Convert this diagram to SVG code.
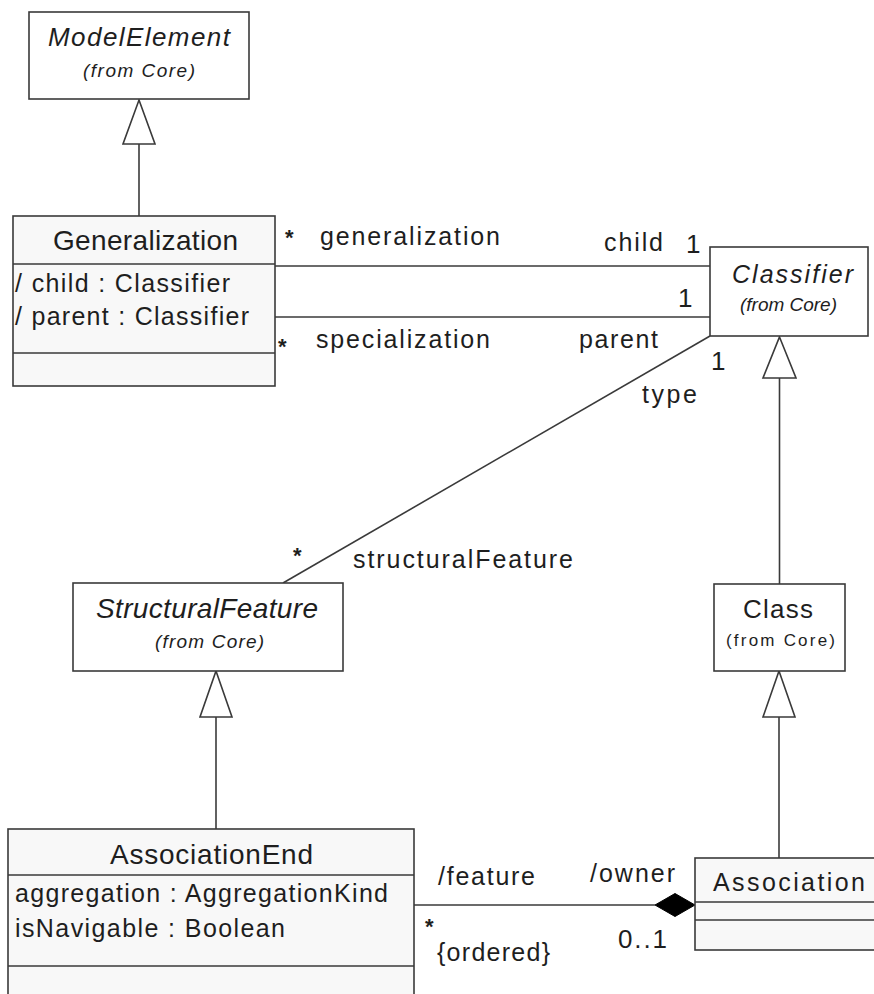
<svg xmlns="http://www.w3.org/2000/svg" width="874" height="994" viewBox="0 0 874 994">
  <style>
    .box { fill: #ffffff; stroke: #3a3a3a; stroke-width: 1.6; }
    .cls { fill: #f8f8f8; stroke: #3a3a3a; stroke-width: 1.6; }
    .div { stroke: #3a3a3a; stroke-width: 1.6; }
    .ln { stroke: #3a3a3a; stroke-width: 1.6; fill: none; }
    .tri { fill: #ffffff; stroke: #3a3a3a; stroke-width: 1.6; }
    .dia { fill: #000000; stroke: #000000; stroke-width: 1; }
    text { font-family: "Liberation Sans", Arial, sans-serif; fill: #1e1e1e; }
    .it { font-style: italic; }
    .t25 { font-size: 25px; }
    .t26 { font-size: 26px; }
    .t28 { font-size: 28px; }
    .t19 { font-size: 19px; }
    .t17 { font-size: 17px; }
    .star { font-size: 22px; font-weight: bold; }
  </style>

  <!-- connectors: generalizations, associations, composition -->
  <g id="connectors">
    <!-- Generalization -> ModelElement -->
    <line class="ln" x1="139" y1="144" x2="139" y2="216"/>
    <polygon class="tri" points="139,100 155,144 123,144"/>
    <!-- Class -> Classifier -->
    <line class="ln" x1="779.5" y1="378" x2="779.5" y2="584"/>
    <polygon class="tri" points="779.5,337 796,378 763,378"/>
    <!-- AssociationEnd -> StructuralFeature -->
    <line class="ln" x1="216" y1="717" x2="216" y2="829"/>
    <polygon class="tri" points="216,671 232,717 200,717"/>
    <!-- Association -> Class -->
    <line class="ln" x1="779" y1="717" x2="779" y2="858"/>
    <polygon class="tri" points="779,671 795,717 763,717"/>
    <!-- child / generalization -->
    <line class="ln" x1="275" y1="266" x2="710" y2="266"/>
    <!-- parent / specialization -->
    <line class="ln" x1="275" y1="317" x2="710" y2="317"/>
    <!-- type / structuralFeature -->
    <line class="ln" x1="283" y1="583" x2="710" y2="336"/>
    <!-- owner / feature composition -->
    <line class="ln" x1="414" y1="905" x2="655" y2="905"/>
    <polygon class="dia" points="655,905 675,893.5 695,905 675,916.5"/>

    <!-- association end labels -->
    <text class="star" x="285" y="245">*</text>
    <text class="t25" x="320" y="245" textLength="180" lengthAdjust="spacing">generalization</text>
    <text class="t25" x="604" y="251" textLength="59" lengthAdjust="spacing">child</text>
    <text class="t26" x="686" y="253">1</text>
    <text class="t26" x="678" y="307">1</text>
    <text class="star" x="278" y="354">*</text>
    <text class="t25" x="316" y="348" textLength="174" lengthAdjust="spacing">specialization</text>
    <text class="t25" x="579" y="348" textLength="79" lengthAdjust="spacing">parent</text>
    <text class="t26" x="711" y="370">1</text>
    <text class="t25" x="642" y="403" textLength="55" lengthAdjust="spacing">type</text>
    <text class="star" x="293" y="563">*</text>
    <text class="t25" x="353" y="568" textLength="220" lengthAdjust="spacing">structuralFeature</text>
    <text class="t25" x="438" y="885" textLength="97" lengthAdjust="spacing">/feature</text>
    <text class="t25" x="590" y="882" textLength="85" lengthAdjust="spacing">/owner</text>
    <text class="star" x="425" y="934">*</text>
    <text class="t25" x="437" y="961" textLength="113" lengthAdjust="spacing">{ordered}</text>
    <text class="t26" x="618" y="948" textLength="49" lengthAdjust="spacing">0..1</text>
  </g>

  <g id="ModelElement">
    <rect class="box" x="29" y="12" width="220" height="87"/>
    <text class="t26 it" x="48" y="46" textLength="182" lengthAdjust="spacing">ModelElement</text>
    <text class="t19 it" x="83" y="77" textLength="112" lengthAdjust="spacing">(from Core)</text>
  </g>

  <g id="Generalization">
    <rect class="cls" x="13" y="216" width="262" height="170"/>
    <line class="div" x1="13" y1="264" x2="275" y2="264"/>
    <line class="div" x1="13" y1="353" x2="275" y2="353"/>
    <text class="t28" x="53" y="250" textLength="185" lengthAdjust="spacing">Generalization</text>
    <text class="t25" x="15" y="292" textLength="215" lengthAdjust="spacing">/ child : Classifier</text>
    <text class="t25" x="15" y="325" textLength="234" lengthAdjust="spacing">/ parent : Classifier</text>
  </g>

  <g id="Classifier">
    <rect class="box" x="710" y="247" width="158" height="89"/>
    <text class="t25 it" x="732" y="283" textLength="121" lengthAdjust="spacing">Classifier</text>
    <text class="t19 it" x="740" y="311" textLength="97" lengthAdjust="spacing">(from Core)</text>
  </g>

  <g id="StructuralFeature">
    <rect class="box" x="73" y="583" width="270" height="88"/>
    <text class="t28 it" x="96" y="618" textLength="222" lengthAdjust="spacing">StructuralFeature</text>
    <text class="t19 it" x="155" y="648" textLength="109" lengthAdjust="spacing">(from Core)</text>
  </g>

  <g id="Class">
    <rect class="box" x="714" y="584" width="131" height="87"/>
    <text class="t26" x="743" y="618" textLength="70" lengthAdjust="spacing">Class</text>
    <text class="t17" x="726" y="646" textLength="109" lengthAdjust="spacing">(from Core)</text>
  </g>

  <g id="AssociationEnd">
    <rect class="cls" x="8" y="829" width="406" height="175"/>
    <line class="div" x1="8" y1="875" x2="414" y2="875"/>
    <line class="div" x1="8" y1="966" x2="414" y2="966"/>
    <text class="t28" x="110" y="864" textLength="203" lengthAdjust="spacing">AssociationEnd</text>
    <text class="t25" x="15" y="902" textLength="373" lengthAdjust="spacing">aggregation : AggregationKind</text>
    <text class="t25" x="15" y="937" textLength="270" lengthAdjust="spacing">isNavigable : Boolean</text>
  </g>

  <g id="Association">
    <rect class="cls" x="695" y="858" width="190" height="92"/>
    <line class="div" x1="695" y1="902" x2="885" y2="902"/>
    <line class="div" x1="695" y1="920" x2="885" y2="920"/>
    <text class="t25" x="713" y="891" textLength="152" lengthAdjust="spacing">Association</text>
  </g>
</svg>
